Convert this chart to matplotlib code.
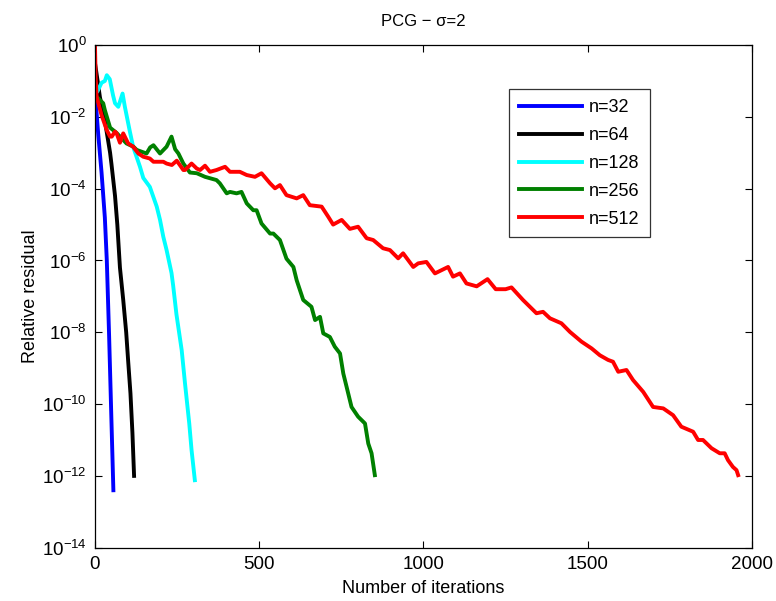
import numpy as np
import matplotlib
matplotlib.use("Agg")
import matplotlib.pyplot as plt

plt.rcParams['font.family'] = ['Liberation Sans', 'DejaVu Sans']
plt.rcParams['mathtext.fontset'] = 'custom'
plt.rcParams['mathtext.rm'] = 'Liberation Sans'
plt.rcParams['mathtext.it'] = 'Liberation Sans:italic'

# iteration / log10(relative residual)
n32_x = [0, 5, 10, 20, 30, 36, 43, 49, 56]
n32_exp = [-1.4, -1.9, -2.5, -3.55, -4.8, -6.0, -8.1, -10.1, -12.4]

n64_x = [0, 8, 15, 30, 46, 50, 61, 68, 76, 86, 95, 101, 108, 114, 119]
n64_exp = [-0.5, -1.0, -1.45, -2.1, -3.0, -3.3, -4.2, -5.0, -6.2, -7.1,
           -8.0, -8.8, -9.7, -10.8, -12.0]

n128_x = [0, 7, 20, 30, 36, 45, 55, 61, 71, 84, 91, 106, 116, 137, 147,
          167, 188, 198, 208, 218, 233, 238, 248, 264, 274, 287, 294, 304]
n128_exp = [-1.0, -1.3, -1.05, -1.0, -0.84, -0.95, -1.4, -1.62, -1.72, -1.35,
            -1.72, -2.4, -2.83, -3.39, -3.7, -3.95, -4.5, -4.87, -5.34, -5.71,
            -6.35, -6.7, -7.5, -8.5, -9.42, -10.54, -11.28, -12.12]

n256_x = [0, 5, 25, 30, 46, 66, 96, 117, 127, 157, 168, 178, 198, 218, 233,
          244, 254, 269, 289, 310, 335, 370, 380, 401, 411, 431, 446, 462,
          482, 492, 507, 533, 543, 563, 583, 604, 614, 634, 659, 670, 685,
          695, 715, 730, 746, 756, 766, 781, 801, 822, 832, 842, 852]
n256_exp = [-1.3, -1.44, -1.62, -1.81, -2.3, -2.45, -2.74, -2.83, -2.92, -3.02,
            -2.85, -2.79, -3.02, -2.83, -2.55, -2.9, -3.02, -3.3, -3.55, -3.57,
            -3.67, -3.76, -3.85, -4.13, -4.09, -4.13, -4.09, -4.41, -4.6, -4.6,
            -4.97, -5.25, -5.25, -5.43, -5.95, -6.18, -6.55, -7.1, -7.29, -7.66,
            -7.57, -8.03, -8.13, -8.4, -8.59, -9.15, -9.52, -10.08, -10.35,
            -10.54, -11.1, -11.37, -11.98]

n512_x = [0, 2, 5, 20, 36, 46, 51, 61, 66, 76, 86, 101, 116, 132, 147, 167,
          178, 208, 218, 234, 249, 269, 274, 294, 310, 320, 335, 350, 370,
          396, 411, 441, 462, 487, 507, 533, 548, 563, 583, 614, 634, 654,
          690, 710, 725, 751, 776, 801, 827, 847, 877, 898, 923, 938, 969,
          984, 1009, 1035, 1055, 1075, 1090, 1111, 1131, 1162, 1195, 1220,
          1250, 1268, 1303, 1344, 1364, 1385, 1420, 1446, 1481, 1512, 1537,
          1562, 1577, 1593, 1618, 1638, 1669, 1699, 1730, 1760, 1785, 1821,
          1836, 1851, 1877, 1902, 1917, 1927, 1942, 1953, 1958]
n512_exp = [0, -0.9, -1.44, -1.95, -2.37, -2.55, -2.55, -2.41, -2.46, -2.72,
            -2.46, -2.74, -2.83, -3.02, -3.11, -3.16, -3.25, -3.25, -3.3, -3.34,
            -3.22, -3.48, -3.48, -3.3, -3.44, -3.48, -3.36, -3.53, -3.48, -3.39,
            -3.53, -3.53, -3.62, -3.67, -3.57, -3.85, -3.99, -3.9, -4.18, -4.27,
            -4.18, -4.46, -4.5, -4.78, -5.0, -4.87, -5.12, -5.06, -5.38, -5.43,
            -5.66, -5.71, -5.94, -5.8, -6.18, -6.08, -6.04, -6.36, -6.27, -6.18,
            -6.45, -6.36, -6.64, -6.72, -6.52, -6.8, -6.8, -6.75, -7.1, -7.47,
            -7.43, -7.61, -7.75, -7.99, -8.26, -8.45, -8.64, -8.77, -8.82, -9.1,
            -9.05, -9.33, -9.66, -10.08, -10.12, -10.31, -10.63, -10.77, -11.0,
            -11.0, -11.23, -11.37, -11.37, -11.56, -11.75, -11.84, -11.98]

labels = ["n=32", "n=64", "n=128", "n=256", "n=512"]
colors = ["#0000ff", "#000000", "#00ffff", "#008000", "#ff0000"]

series = [(n32_x, n32_exp), (n64_x, n64_exp), (n128_x, n128_exp),
          (n256_x, n256_exp), (n512_x, n512_exp)]

fig = plt.figure(figsize=(7.76, 6.01), dpi=100)
ax = fig.add_axes([0.1224, 0.0887, 0.8466, 0.8363])

for (xs, es), lab, c in zip(series, labels, colors):
    ax.semilogy(xs, 10.0 ** np.array(es), color=c, lw=2.8, label=lab)

ax.set_xlim(0, 2000)
ax.set_ylim(1e-14, 1)
ax.set_xticks([0, 500, 1000, 1500, 2000])
ax.set_yticks([10.0 ** k for k in range(-14, 1, 2)])
ax.minorticks_off()
ax.tick_params(direction='in', top=True, right=True, length=5, width=0.8,
               labelsize=13.5, pad=6)
for s in ax.spines.values():
    s.set_linewidth(0.9)

ax.set_xlabel("Number of iterations", fontsize=13, labelpad=5)
ax.set_ylabel("Relative residual", fontsize=13, labelpad=2)
ax.set_title("PCG \u2212 \u03c3=2", fontsize=12, pad=14)

leg = ax.legend(loc='upper left', bbox_to_anchor=(0.63, 0.912), fontsize=13,
                frameon=True, fancybox=False, edgecolor='black',
                handlelength=3.5, handletextpad=0.4, labelspacing=0.6,
                borderpad=0.55, borderaxespad=0)
leg.get_frame().set_linewidth(0.9)

fig.savefig("out.png", dpi=100)
